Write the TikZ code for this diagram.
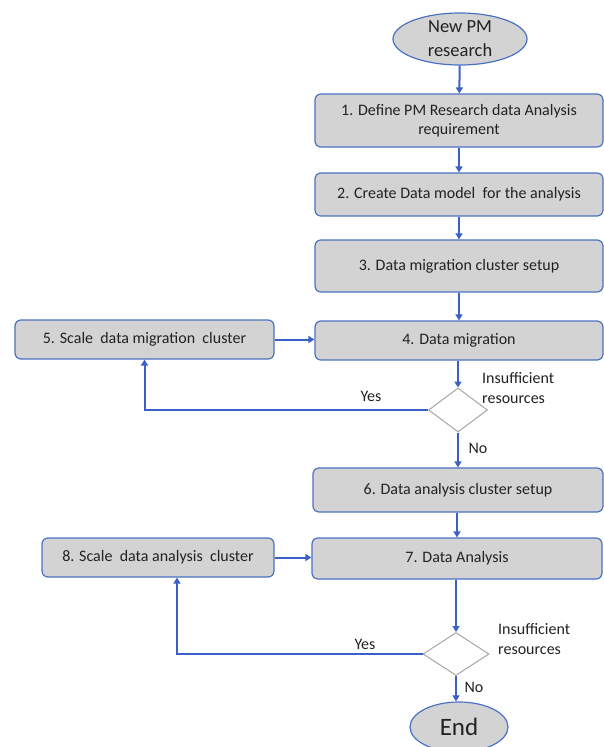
\documentclass[tikz,border=0pt]{standalone}
\usepackage{fontspec}
\setmainfont{Carlito}
\usetikzlibrary{shapes.geometric,arrows.meta}
\definecolor{boxblue}{RGB}{74,114,196}
\definecolor{arrowblue}{RGB}{58,96,200}
\definecolor{boxgray}{RGB}{211,211,211}
\definecolor{diagray}{RGB}{166,166,166}
\definecolor{inkgray}{RGB}{34,34,34}
\begin{document}
\begin{tikzpicture}[x=1pt, y=-1pt,
    every node/.style={text=inkgray, font=\fontsize{16}{19.5}\selectfont},
    stepbox/.style={draw=boxblue, fill=boxgray, line width=1.2pt, rounded corners=6pt,
        align=center, inner sep=0pt},
    endbox/.style={ellipse, draw=boxblue, fill=boxgray, line width=1.2pt, inner sep=0pt},
    decide/.style={diamond, draw=diagray, fill=white, line width=1pt, inner sep=0pt},
    flow/.style={draw=arrowblue, line width=2pt, -{Triangle[length=6pt,width=7pt]}}]
    \useasboundingbox (0,0) rectangle (604,747);
    \node[endbox, minimum width=134pt, minimum height=52pt, align=center,
        font=\fontsize{18.5}{24}\selectfont] (start) at (460,39) {New PM\\research};
    \node[stepbox, minimum width=288pt, minimum height=53pt] (b1) at (459,120.5)
        {1. Define PM Research data Analysis\\requirement};
    \node[stepbox, minimum width=288pt, minimum height=43pt] (b2) at (459,194.5)
        {2. Create Data model\ \ for the analysis};
    \node[stepbox, minimum width=288pt, minimum height=52pt] (b3) at (459,266)
        {3. Data migration cluster setup};
    \node[stepbox, minimum width=288pt, minimum height=39pt] (b4) at (459,340.5)
        {4. Data migration};
    \node[decide, minimum width=59pt, minimum height=44pt] (d1) at (458,410) {};
    \node[stepbox, minimum width=259pt, minimum height=39pt] (b5) at (144.5,339.5)
        {5. Scale\ \ data migration\ \ cluster};
    \node[stepbox, minimum width=290pt, minimum height=44pt] (b6) at (458,490)
        {6. Data analysis cluster setup};
    \node[stepbox, minimum width=290pt, minimum height=41pt] (b7) at (457,558.5)
        {7. Data Analysis};
    \node[decide, minimum width=66pt, minimum height=43pt] (d2) at (456,654) {};
    \node[stepbox, minimum width=232pt, minimum height=39pt] (b8) at (158,557.5)
        {8. Scale\ \ data analysis\ \ cluster};
    \node[endbox, minimum width=98pt, minimum height=50pt,
        font=\fontsize{25}{30}\selectfont] (end) at (459,727) {End};
    \coordinate (back2) at (177,557.5);
    % main line
    \draw[flow] (start) -- (b1);
    \draw[flow] (b1) -- (b2);
    \draw[flow] (b2) -- (b3);
    \draw[flow] (b3) -- (b4);
    \draw[flow] (b4.south -| d1) -- (d1.north);
    \draw[flow] (d1.south) -- (d1.south |- b6.north);
    \draw[flow] (b6.south -| b7) -- (b7);
    \draw[flow] (b7.south -| d2) -- (d2.north);
    \draw[flow] (d2.south) -- (end.north -| d2);
    % loops back
    \draw[flow] (d1.west) -- (d1.west -| b5) -- (b5.south);
    \draw[flow] (b5.east) -- (b4.west |- b5.east);
    \draw[flow] (d2.west) -- (d2.west -| back2) -- (back2 |- b8.south);
    \draw[flow] (b8.east) -- (b7.west |- b8.east);
    % labels
    \node[anchor=west, align=left, inner sep=0pt] (q1) at (482,388) {Insufficient\\resources};
    \node[anchor=west, align=left, inner sep=0pt] (q2) at (498,639) {Insufficient\\resources};
    \node (yes1) at (371,396) {Yes};
    \node (yes2) at (365,644) {Yes};
    \node (no1) at (478,448) {No};
    \node (no2) at (474,687) {No};
\end{tikzpicture}
\end{document}
